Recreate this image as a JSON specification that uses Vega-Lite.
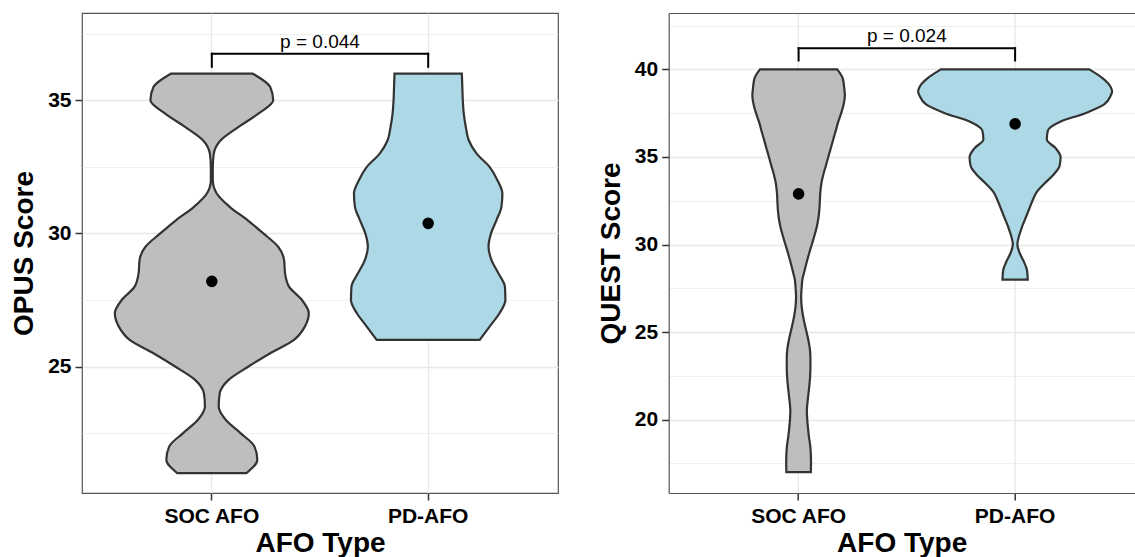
{
  "$schema": "https://vega.github.io/schema/vega-lite/v6.json",
  "padding": {"left": 10, "top": 12, "right": 0, "bottom": 0},
  "background": "white",
  "config": {
    "font": "Liberation Sans",
    "view": {"stroke": "#555555", "strokeWidth": 1.2},
    "axis": {
      "labelFont": "Liberation Sans", "labelFontSize": 21, "labelFontWeight": "bold", "labelColor": "#000000",
      "titleFont": "Liberation Sans", "titleFontSize": 28, "titleFontWeight": "bold", "titleColor": "#000000",
      "tickColor": "#333333", "tickWidth": 1.5, "tickSize": 7, "labelPadding": 4,
      "domain": false, "gridColor": "#e8e8e8"
    }
  },
  "datasets": {
    "opus_violin": [
      {"afo": "SOC AFO", "score": 21.0, "density": 0.357},
      {"afo": "SOC AFO", "score": 21.5, "density": 0.469},
      {"afo": "SOC AFO", "score": 22.0, "density": 0.439},
      {"afo": "SOC AFO", "score": 22.5, "density": 0.296},
      {"afo": "SOC AFO", "score": 23.0, "density": 0.143},
      {"afo": "SOC AFO", "score": 23.5, "density": 0.071},
      {"afo": "SOC AFO", "score": 24.0, "density": 0.082},
      {"afo": "SOC AFO", "score": 24.5, "density": 0.173},
      {"afo": "SOC AFO", "score": 25.0, "density": 0.378},
      {"afo": "SOC AFO", "score": 25.5, "density": 0.602},
      {"afo": "SOC AFO", "score": 26.0, "density": 0.847},
      {"afo": "SOC AFO", "score": 26.5, "density": 0.959},
      {"afo": "SOC AFO", "score": 27.0, "density": 1.0},
      {"afo": "SOC AFO", "score": 27.5, "density": 0.929},
      {"afo": "SOC AFO", "score": 28.0, "density": 0.796},
      {"afo": "SOC AFO", "score": 28.5, "density": 0.755},
      {"afo": "SOC AFO", "score": 29.0, "density": 0.745},
      {"afo": "SOC AFO", "score": 29.5, "density": 0.684},
      {"afo": "SOC AFO", "score": 30.0, "density": 0.531},
      {"afo": "SOC AFO", "score": 30.5, "density": 0.367},
      {"afo": "SOC AFO", "score": 31.0, "density": 0.184},
      {"afo": "SOC AFO", "score": 31.5, "density": 0.051},
      {"afo": "SOC AFO", "score": 32.0, "density": 0.01},
      {"afo": "SOC AFO", "score": 32.5, "density": 0.01},
      {"afo": "SOC AFO", "score": 33.0, "density": 0.02},
      {"afo": "SOC AFO", "score": 33.5, "density": 0.092},
      {"afo": "SOC AFO", "score": 34.0, "density": 0.276},
      {"afo": "SOC AFO", "score": 34.5, "density": 0.48},
      {"afo": "SOC AFO", "score": 35.0, "density": 0.633},
      {"afo": "SOC AFO", "score": 35.5, "density": 0.602},
      {"afo": "SOC AFO", "score": 36.0, "density": 0.423},
      {"afo": "PD-AFO", "score": 26.0, "density": 0.531},
      {"afo": "PD-AFO", "score": 26.5, "density": 0.633},
      {"afo": "PD-AFO", "score": 27.0, "density": 0.735},
      {"afo": "PD-AFO", "score": 27.5, "density": 0.796},
      {"afo": "PD-AFO", "score": 28.0, "density": 0.791},
      {"afo": "PD-AFO", "score": 28.5, "density": 0.724},
      {"afo": "PD-AFO", "score": 29.0, "density": 0.653},
      {"afo": "PD-AFO", "score": 29.5, "density": 0.622},
      {"afo": "PD-AFO", "score": 30.0, "density": 0.648},
      {"afo": "PD-AFO", "score": 30.5, "density": 0.704},
      {"afo": "PD-AFO", "score": 31.0, "density": 0.755},
      {"afo": "PD-AFO", "score": 31.5, "density": 0.765},
      {"afo": "PD-AFO", "score": 32.0, "density": 0.714},
      {"afo": "PD-AFO", "score": 32.5, "density": 0.633},
      {"afo": "PD-AFO", "score": 33.0, "density": 0.5},
      {"afo": "PD-AFO", "score": 33.5, "density": 0.418},
      {"afo": "PD-AFO", "score": 34.0, "density": 0.388},
      {"afo": "PD-AFO", "score": 34.5, "density": 0.367},
      {"afo": "PD-AFO", "score": 35.0, "density": 0.357},
      {"afo": "PD-AFO", "score": 35.5, "density": 0.352},
      {"afo": "PD-AFO", "score": 36.0, "density": 0.347}
    ],
    "quest_violin": [
      {"afo": "SOC AFO", "score": 17.0, "density": 0.126},
      {"afo": "SOC AFO", "score": 17.5, "density": 0.128},
      {"afo": "SOC AFO", "score": 18.0, "density": 0.126},
      {"afo": "SOC AFO", "score": 18.5, "density": 0.12},
      {"afo": "SOC AFO", "score": 19.0, "density": 0.107},
      {"afo": "SOC AFO", "score": 19.5, "density": 0.097},
      {"afo": "SOC AFO", "score": 20.0, "density": 0.089},
      {"afo": "SOC AFO", "score": 20.5, "density": 0.085},
      {"afo": "SOC AFO", "score": 21.0, "density": 0.092},
      {"afo": "SOC AFO", "score": 21.5, "density": 0.102},
      {"afo": "SOC AFO", "score": 22.0, "density": 0.112},
      {"afo": "SOC AFO", "score": 22.5, "density": 0.119},
      {"afo": "SOC AFO", "score": 23.0, "density": 0.122},
      {"afo": "SOC AFO", "score": 23.5, "density": 0.122},
      {"afo": "SOC AFO", "score": 24.0, "density": 0.117},
      {"afo": "SOC AFO", "score": 24.5, "density": 0.102},
      {"afo": "SOC AFO", "score": 25.0, "density": 0.082},
      {"afo": "SOC AFO", "score": 25.5, "density": 0.061},
      {"afo": "SOC AFO", "score": 26.0, "density": 0.043},
      {"afo": "SOC AFO", "score": 26.5, "density": 0.031},
      {"afo": "SOC AFO", "score": 27.0, "density": 0.026},
      {"afo": "SOC AFO", "score": 27.5, "density": 0.031},
      {"afo": "SOC AFO", "score": 28.0, "density": 0.039},
      {"afo": "SOC AFO", "score": 28.5, "density": 0.061},
      {"afo": "SOC AFO", "score": 29.0, "density": 0.084},
      {"afo": "SOC AFO", "score": 29.5, "density": 0.109},
      {"afo": "SOC AFO", "score": 30.0, "density": 0.136},
      {"afo": "SOC AFO", "score": 30.5, "density": 0.163},
      {"afo": "SOC AFO", "score": 31.0, "density": 0.187},
      {"afo": "SOC AFO", "score": 31.5, "density": 0.204},
      {"afo": "SOC AFO", "score": 32.0, "density": 0.214},
      {"afo": "SOC AFO", "score": 32.5, "density": 0.219},
      {"afo": "SOC AFO", "score": 33.0, "density": 0.224},
      {"afo": "SOC AFO", "score": 33.5, "density": 0.235},
      {"afo": "SOC AFO", "score": 34.0, "density": 0.255},
      {"afo": "SOC AFO", "score": 34.5, "density": 0.281},
      {"afo": "SOC AFO", "score": 35.0, "density": 0.306},
      {"afo": "SOC AFO", "score": 35.5, "density": 0.332},
      {"afo": "SOC AFO", "score": 36.0, "density": 0.357},
      {"afo": "SOC AFO", "score": 36.5, "density": 0.383},
      {"afo": "SOC AFO", "score": 37.0, "density": 0.408},
      {"afo": "SOC AFO", "score": 37.5, "density": 0.439},
      {"afo": "SOC AFO", "score": 38.0, "density": 0.464},
      {"afo": "SOC AFO", "score": 38.5, "density": 0.477},
      {"afo": "SOC AFO", "score": 39.0, "density": 0.469},
      {"afo": "SOC AFO", "score": 39.5, "density": 0.454},
      {"afo": "SOC AFO", "score": 40.0, "density": 0.398},
      {"afo": "PD-AFO", "score": 28.0, "density": 0.13},
      {"afo": "PD-AFO", "score": 28.5, "density": 0.124},
      {"afo": "PD-AFO", "score": 29.0, "density": 0.092},
      {"afo": "PD-AFO", "score": 29.5, "density": 0.048},
      {"afo": "PD-AFO", "score": 30.0, "density": 0.023},
      {"afo": "PD-AFO", "score": 30.5, "density": 0.041},
      {"afo": "PD-AFO", "score": 31.0, "density": 0.071},
      {"afo": "PD-AFO", "score": 31.5, "density": 0.107},
      {"afo": "PD-AFO", "score": 32.0, "density": 0.143},
      {"afo": "PD-AFO", "score": 32.5, "density": 0.179},
      {"afo": "PD-AFO", "score": 33.0, "density": 0.224},
      {"afo": "PD-AFO", "score": 33.5, "density": 0.306},
      {"afo": "PD-AFO", "score": 34.0, "density": 0.398},
      {"afo": "PD-AFO", "score": 34.5, "density": 0.459},
      {"afo": "PD-AFO", "score": 35.0, "density": 0.469},
      {"afo": "PD-AFO", "score": 35.5, "density": 0.418},
      {"afo": "PD-AFO", "score": 36.0, "density": 0.327},
      {"afo": "PD-AFO", "score": 36.5, "density": 0.337},
      {"afo": "PD-AFO", "score": 37.0, "density": 0.459},
      {"afo": "PD-AFO", "score": 37.5, "density": 0.724},
      {"afo": "PD-AFO", "score": 38.0, "density": 0.918},
      {"afo": "PD-AFO", "score": 38.5, "density": 0.985},
      {"afo": "PD-AFO", "score": 38.75, "density": 1.0},
      {"afo": "PD-AFO", "score": 39.0, "density": 0.985},
      {"afo": "PD-AFO", "score": 39.5, "density": 0.901},
      {"afo": "PD-AFO", "score": 40.0, "density": 0.765}
    ],
    "means": [
      {"measure": "OPUS", "afo": "SOC AFO", "mean": 28.2},
      {"measure": "OPUS", "afo": "PD-AFO", "mean": 30.38},
      {"measure": "QUEST", "afo": "SOC AFO", "mean": 32.89},
      {"measure": "QUEST", "afo": "PD-AFO", "mean": 36.89}
    ],
    "tests": [
      {"measure": "OPUS", "group1": "SOC AFO", "group2": "PD-AFO", "y": 36.75, "tip": 36.26, "label": "p = 0.044"},
      {"measure": "QUEST", "group1": "SOC AFO", "group2": "PD-AFO", "y": 41.2, "tip": 40.51, "label": "p = 0.024"}
    ]
  },
  "spacing": 110.7,
  "bounds": "flush",
  "hconcat": [
    {
      "width": 476,
      "height": 480,
      "layer": [
        {
          "data": {"name": "opus_violin"},
          "transform": [{"filter": "datum.afo === 'SOC AFO'"}],
          "mark": {"type": "area", "orient": "horizontal", "interpolate": "monotone", "fill": "#BEBEBE", "fillOpacity": 1, "stroke": "#333333", "strokeWidth": 2.2},
          "encoding": {
            "y": {"field": "score", "type": "quantitative", "title": "OPUS Score", "scale": {"domain": [20.25, 38.28], "nice": false, "zero": false}},
            "x": {"field": "density", "type": "quantitative", "stack": "center", "impute": null, "scale": {"domain": [-0.16918, 2.28443], "nice": false, "zero": false}, "axis": null}
          }
        },
        {
          "data": {"name": "opus_violin"},
          "transform": [{"filter": "datum.afo === 'PD-AFO'"}],
          "mark": {"type": "area", "orient": "horizontal", "interpolate": "monotone", "fill": "#ADD8E6", "fillOpacity": 1, "stroke": "#333333", "strokeWidth": 2.2},
          "encoding": {
            "y": {"field": "score", "type": "quantitative", "title": "OPUS Score", "scale": {"domain": [20.25, 38.28], "nice": false, "zero": false}},
            "x": {"field": "density", "type": "quantitative", "stack": "center", "impute": null, "scale": {"domain": [-1.38643, 1.06718], "nice": false, "zero": false}, "axis": null}
          }
        },
        {
          "layer": [
            {
              "data": {"name": "means"},
              "transform": [{"filter": "datum.measure === 'OPUS'"}],
              "mark": {"type": "point", "filled": true, "color": "#000000", "opacity": 1, "size": 135},
              "encoding": {
                "x": {"field": "afo", "type": "nominal", "title": "AFO Type",
                  "scale": {"type": "band", "domain": ["SOC AFO", "PD-AFO"], "paddingInner": 0, "paddingOuter": 0.1, "align": 0.5},
                  "axis": {"labelAngle": 0, "grid": true, "bandPosition": 0.5, "gridWidth": 1.3, "labelPadding": 5, "titlePadding": 3}},
                "y": {"field": "mean", "type": "quantitative", "title": "OPUS Score",
                  "scale": {"domain": [20.25, 38.28], "nice": false, "zero": false},
                  "axis": {"values": [22.5, 25, 27.5, 30, 32.5, 35, 37.5],
                    "labelExpr": "datum.value % 5 === 0 ? datum.label : ''",
                    "tickOpacity": {"condition": {"test": "datum.value % 5 === 0", "value": 1}, "value": 0},
                    "gridWidth": {"condition": {"test": "datum.value % 5 === 0", "value": 1.3}, "value": 0.7},
                    "titlePadding": 9}}
              }
            },
            {
              "data": {"name": "tests"},
              "transform": [{"filter": "datum.measure === 'OPUS'"}],
              "mark": {"type": "rule", "color": "#000000", "strokeWidth": 2, "strokeCap": "square"},
              "encoding": {
                "x": {"field": "group1", "type": "nominal", "bandPosition": 0.5, "scale": {"type": "band", "domain": ["SOC AFO", "PD-AFO"], "paddingInner": 0, "paddingOuter": 0.1, "align": 0.5}},
                "y": {"field": "tip", "type": "quantitative", "title": "OPUS Score"},
                "y2": {"field": "y"}
              }
            },
            {
              "data": {"name": "tests"},
              "transform": [{"filter": "datum.measure === 'OPUS'"}],
              "mark": {"type": "rule", "color": "#000000", "strokeWidth": 2, "strokeCap": "square"},
              "encoding": {
                "x": {"field": "group2", "type": "nominal", "bandPosition": 0.5, "scale": {"type": "band", "domain": ["SOC AFO", "PD-AFO"], "paddingInner": 0, "paddingOuter": 0.1, "align": 0.5}},
                "y": {"field": "tip", "type": "quantitative", "title": "OPUS Score"},
                "y2": {"field": "y"}
              }
            },
            {
              "data": {"name": "tests"},
              "transform": [{"filter": "datum.measure === 'OPUS'"}],
              "mark": {"type": "rule", "color": "#000000", "strokeWidth": 2, "strokeCap": "square"},
              "encoding": {
                "x": {"field": "group1", "type": "nominal", "bandPosition": 0.5, "scale": {"type": "band", "domain": ["SOC AFO", "PD-AFO"], "paddingInner": 0, "paddingOuter": 0.1, "align": 0.5}},
                "x2": {"field": "group2"},
                "y": {"field": "y", "type": "quantitative", "title": "OPUS Score"}
              }
            },
            {
              "data": {"name": "tests"},
              "transform": [{"filter": "datum.measure === 'OPUS'"}],
              "mark": {"type": "text", "font": "Liberation Sans", "fontSize": 19, "color": "#000000", "align": "center", "baseline": "alphabetic", "dy": -6},
              "encoding": {
                "x": {"field": "group1", "type": "nominal", "bandPosition": 1, "scale": {"type": "band", "domain": ["SOC AFO", "PD-AFO"], "paddingInner": 0, "paddingOuter": 0.1, "align": 0.5}},
                "y": {"field": "y", "type": "quantitative", "title": "OPUS Score"},
                "text": {"field": "label"}
              }
            }
          ]
        }
      ],
      "resolve": {"scale": {"x": "independent"}, "axis": {"x": "independent"}}
    },
    {
      "width": 466,
      "height": 480,
      "view": {"stroke": null},
      "layer": [
        {
          "data": {"name": "quest_violin"},
          "transform": [{"filter": "datum.afo === 'SOC AFO'"}],
          "mark": {"type": "area", "orient": "horizontal", "interpolate": "monotone", "fill": "#BEBEBE", "fillOpacity": 1, "stroke": "#333333", "strokeWidth": 2.2},
          "encoding": {
            "y": {"field": "score", "type": "quantitative", "title": "QUEST Score", "scale": {"domain": [15.81, 43.22], "nice": false, "zero": false}},
            "x": {"field": "density", "type": "quantitative", "stack": "center", "impute": null, "scale": {"domain": [-0.43109, 1.97097], "nice": false, "zero": false},
              "axis": {"orient": "top", "domain": true, "domainColor": "#555555", "domainWidth": 1.2, "labels": false, "ticks": false, "grid": false, "title": null}}
          }
        },
        {
          "data": {"name": "quest_violin"},
          "transform": [{"filter": "datum.afo === 'PD-AFO'"}],
          "mark": {"type": "area", "orient": "horizontal", "interpolate": "monotone", "fill": "#ADD8E6", "fillOpacity": 1, "stroke": "#333333", "strokeWidth": 2.2},
          "encoding": {
            "y": {"field": "score", "type": "quantitative", "title": "QUEST Score", "scale": {"domain": [15.81, 43.22], "nice": false, "zero": false}},
            "x": {"field": "density", "type": "quantitative", "stack": "center", "impute": null, "scale": {"domain": [-1.28557, 1.11649], "nice": false, "zero": false}, "axis": null}
          }
        },
        {
          "layer": [
            {
              "data": {"name": "means"},
              "transform": [{"filter": "datum.measure === 'QUEST'"}],
              "mark": {"type": "point", "filled": true, "color": "#000000", "opacity": 1, "size": 135},
              "encoding": {
                "x": {"field": "afo", "type": "nominal", "title": "AFO Type",
                  "scale": {"type": "band", "domain": ["SOC AFO", "PD-AFO"], "paddingInner": 0, "paddingOuter": 0.076212, "align": 0.65606},
                  "axis": {"labelAngle": 0, "grid": true, "bandPosition": 0.5, "gridWidth": 1.3, "labelPadding": 5, "titlePadding": 3, "domain": true, "domainColor": "#555555", "domainWidth": 1.2}},
                "y": {"field": "mean", "type": "quantitative", "title": "QUEST Score",
                  "scale": {"domain": [15.81, 43.22], "nice": false, "zero": false},
                  "axis": {"values": [17.5, 20, 22.5, 25, 27.5, 30, 32.5, 35, 37.5, 40, 42.5],
                    "labelExpr": "datum.value % 5 === 0 ? datum.label : ''",
                    "tickOpacity": {"condition": {"test": "datum.value % 5 === 0", "value": 1}, "value": 0},
                    "gridWidth": {"condition": {"test": "datum.value % 5 === 0", "value": 1.3}, "value": 0.7},
                    "titlePadding": 9, "domain": true, "domainColor": "#555555", "domainWidth": 1.2}}
              }
            },
            {
              "data": {"name": "tests"},
              "transform": [{"filter": "datum.measure === 'QUEST'"}],
              "mark": {"type": "rule", "color": "#000000", "strokeWidth": 2, "strokeCap": "square"},
              "encoding": {
                "x": {"field": "group1", "type": "nominal", "bandPosition": 0.5, "scale": {"type": "band", "domain": ["SOC AFO", "PD-AFO"], "paddingInner": 0, "paddingOuter": 0.076212, "align": 0.65606}},
                "y": {"field": "tip", "type": "quantitative", "title": "QUEST Score"},
                "y2": {"field": "y"}
              }
            },
            {
              "data": {"name": "tests"},
              "transform": [{"filter": "datum.measure === 'QUEST'"}],
              "mark": {"type": "rule", "color": "#000000", "strokeWidth": 2, "strokeCap": "square"},
              "encoding": {
                "x": {"field": "group2", "type": "nominal", "bandPosition": 0.5, "scale": {"type": "band", "domain": ["SOC AFO", "PD-AFO"], "paddingInner": 0, "paddingOuter": 0.076212, "align": 0.65606}},
                "y": {"field": "tip", "type": "quantitative", "title": "QUEST Score"},
                "y2": {"field": "y"}
              }
            },
            {
              "data": {"name": "tests"},
              "transform": [{"filter": "datum.measure === 'QUEST'"}],
              "mark": {"type": "rule", "color": "#000000", "strokeWidth": 2, "strokeCap": "square"},
              "encoding": {
                "x": {"field": "group1", "type": "nominal", "bandPosition": 0.5, "scale": {"type": "band", "domain": ["SOC AFO", "PD-AFO"], "paddingInner": 0, "paddingOuter": 0.076212, "align": 0.65606}},
                "x2": {"field": "group2"},
                "y": {"field": "y", "type": "quantitative", "title": "QUEST Score"}
              }
            },
            {
              "data": {"name": "tests"},
              "transform": [{"filter": "datum.measure === 'QUEST'"}],
              "mark": {"type": "text", "font": "Liberation Sans", "fontSize": 19, "color": "#000000", "align": "center", "baseline": "alphabetic", "dy": -6},
              "encoding": {
                "x": {"field": "group1", "type": "nominal", "bandPosition": 1, "scale": {"type": "band", "domain": ["SOC AFO", "PD-AFO"], "paddingInner": 0, "paddingOuter": 0.076212, "align": 0.65606}},
                "y": {"field": "y", "type": "quantitative", "title": "QUEST Score"},
                "text": {"field": "label"}
              }
            }
          ]
        }
      ],
      "resolve": {"scale": {"x": "independent"}, "axis": {"x": "independent"}}
    }
  ]
}
